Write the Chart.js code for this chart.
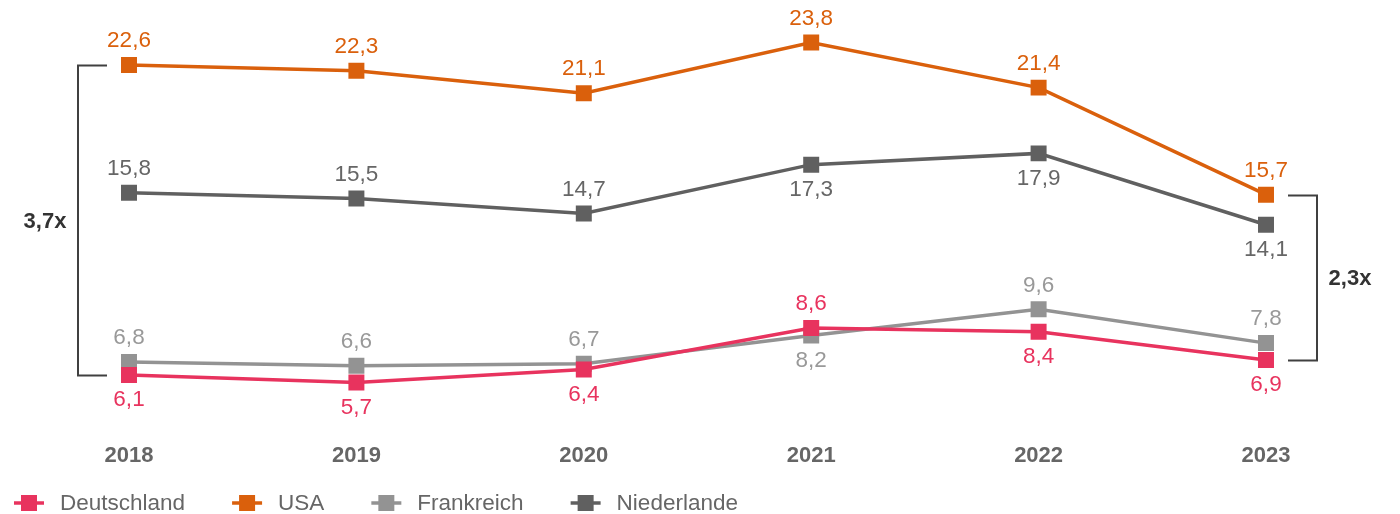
<!DOCTYPE html>
<html>
<head>
<meta charset="utf-8">
<script src="https://cdn.jsdelivr.net/npm/chart.js@4.4.0/dist/chart.umd.min.js"></script>
<style>
  html, body { margin: 0; padding: 0; background: #fff; }
  #wrap { width: 1400px; height: 514px; position: relative; }
</style>
</head>
<body>
<div id="wrap"><canvas id="chart"></canvas></div>
<script>
const years = ["2018", "2019", "2020", "2021", "2022", "2023"];

const deutschland = [6.1, 5.7, 6.4, 8.6, 8.4, 6.9];
const usa = [22.6, 22.3, 21.1, 23.8, 21.4, 15.7];
const frankreich = [6.8, 6.6, 6.7, 8.2, 9.6, 7.8];
const niederlande = [15.8, 15.5, 14.7, 17.3, 17.9, 14.1];

// where each value label sits: a = above the point, b = below
const posDeutschland = ["b", "b", "b", "a", "b", "b"];
const posUsa = ["a", "a", "a", "a", "a", "a"];
const posFrankreich = ["a", "a", "a", "b", "a", "a"];
const posNiederlande = ["a", "a", "a", "b", "b", "b"];

// brackets: [year index, high value, low value, label, side]
const brackets = [
  [0, 22.6, 6.1, "3,7x", "left"],
  [5, 15.7, 6.9, "2,3x", "right"],
];

const FONT = "'Liberation Sans', Arial, Helvetica, sans-serif";

function fmt(v) {
  return v.toFixed(1).replace(".", ",");
}

function series(label, data, color, labelColor, pos) {
  return {
    label: label,
    data: data,
    borderColor: color,
    backgroundColor: color,
    borderWidth: 3.5,
    pointStyle: "rect",
    pointRadius: 11.3,
    pointHoverRadius: 11.3,
    pointBorderWidth: 0,
    pointBackgroundColor: color,
    tension: 0,
    labelColor: labelColor,
    labelPos: pos,
  };
}

const valueLabels = {
  id: "valueLabels",
  afterDatasetsDraw(chart) {
    const ctx = chart.ctx;
    ctx.save();
    ctx.font = "22.5px " + FONT;
    ctx.textAlign = "center";
    ctx.textBaseline = "middle";
    chart.data.datasets.forEach((ds, i) => {
      const meta = chart.getDatasetMeta(i);
      meta.data.forEach((pt, j) => {
        const dy = ds.labelPos[j] === "a" ? -24 : 25;
        ctx.fillStyle = ds.labelColor;
        ctx.fillText(fmt(ds.data[j]), pt.x, pt.y + dy);
      });
    });
    ctx.restore();
  },
};

const bracketPlugin = {
  id: "brackets",
  afterDraw(chart) {
    const ctx = chart.ctx;
    const xs = chart.scales.x;
    const ys = chart.scales.y;
    ctx.save();
    ctx.strokeStyle = "#404040";
    ctx.lineWidth = 2;
    ctx.fillStyle = "#333333";
    ctx.font = "bold 22px " + FONT;
    ctx.textAlign = "center";
    ctx.textBaseline = "middle";
    brackets.forEach(([idx, hi, lo, text, side]) => {
      const px = xs.getPixelForValue(idx);
      const y1 = Math.round(ys.getPixelForValue(hi)) + 0.5;
      const y2 = Math.round(ys.getPixelForValue(lo)) + 0.5;
      const s = side === "left" ? -1 : 1;
      const inner = px + s * 22;
      const outer = px + s * 51;
      ctx.beginPath();
      ctx.moveTo(inner, y1);
      ctx.lineTo(outer, y1);
      ctx.lineTo(outer, y2);
      ctx.lineTo(inner, y2);
      ctx.stroke();
      ctx.fillText(text, px + s * 84, (y1 + y2) / 2 + 1);
    });
    ctx.restore();
  },
};

const legendPlugin = {
  id: "customLegend",
  afterDraw(chart) {
    const ctx = chart.ctx;
    ctx.save();
    ctx.font = "22.5px " + FONT;
    ctx.textBaseline = "middle";
    ctx.textAlign = "left";
    let x = 14;
    const y = 503;
    chart.data.datasets.forEach((ds) => {
      ctx.strokeStyle = ds.borderColor;
      ctx.lineWidth = 3.5;
      ctx.beginPath();
      ctx.moveTo(x, y);
      ctx.lineTo(x + 30, y);
      ctx.stroke();
      ctx.fillStyle = ds.borderColor;
      ctx.fillRect(x + 7, y - 8, 16, 16);
      ctx.fillStyle = "#666666";
      ctx.fillText(ds.label, x + 46, y + 1);
      x += 46 + ctx.measureText(ds.label).width + 47;
    });
    ctx.restore();
  },
};

new Chart(document.getElementById("chart"), {
  type: "line",
  data: {
    labels: years,
    datasets: [
      series("Deutschland", deutschland, "#e8335e", "#e8335e", posDeutschland),
      series("USA", usa, "#da600c", "#da600c", posUsa),
      series("Frankreich", frankreich, "#939393", "#999999", posFrankreich),
      series("Niederlande", niederlande, "#606060", "#666666", posNiederlande),
    ],
  },
  options: {
    responsive: true,
    maintainAspectRatio: false,
    animation: false,
    events: [],
    layout: { padding: { top: 20, left: 129, right: 134, bottom: 0 } },
    plugins: {
      legend: { display: false },
      tooltip: { enabled: false },
    },
    scales: {
      x: {
        offset: false,
        grid: { display: false, drawTicks: false },
        border: { display: false },
        ticks: {
          color: "#666666",
          font: { family: FONT, size: 22, weight: "bold" },
          padding: 28,
          maxRotation: 0,
        },
        afterFit(scale) {
          scale.height = 99.5;
        },
      },
      y: {
        display: false,
        min: 4,
        max: 25,
      },
    },
  },
  plugins: [valueLabels, bracketPlugin, legendPlugin],
});
</script>
</body>
</html>
